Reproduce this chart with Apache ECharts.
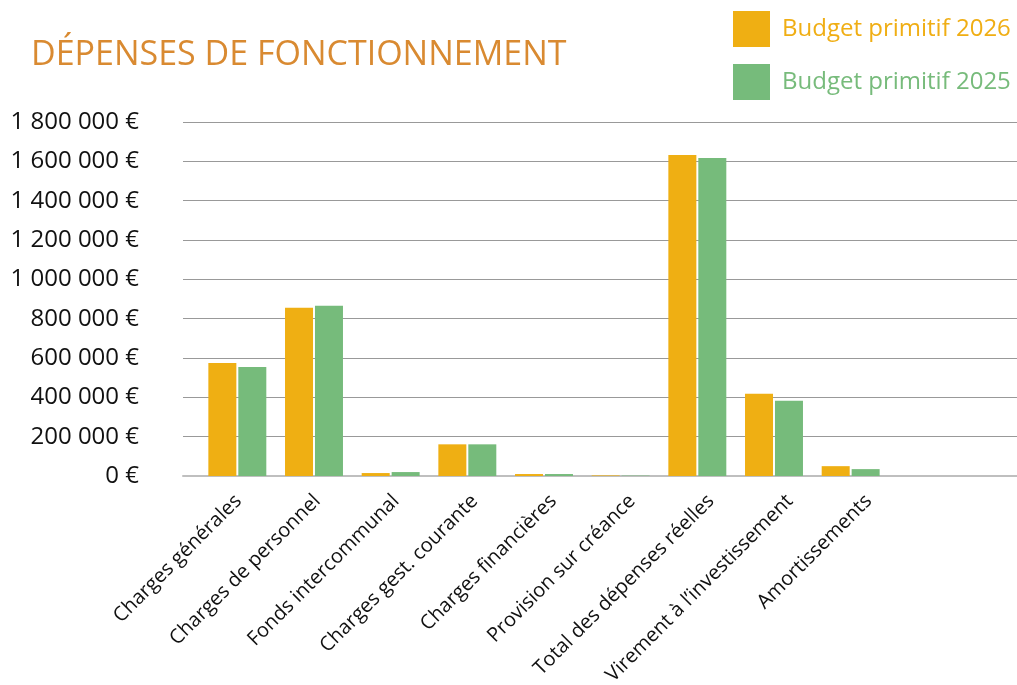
<!DOCTYPE html>
<html>
<head>
<meta charset="utf-8">
<script src="https://cdn.jsdelivr.net/npm/echarts@6/dist/echarts.min.js"></script>
<style>
  html, body { margin: 0; padding: 0; background: #fff; }
  #chart { width: 1017px; height: 685px; }
</style>
</head>
<body>
<div id="chart"></div>
<script>
const categories = [
  'Charges générales',
  'Charges de personnel',
  'Fonds intercommunal',
  'Charges gest. courante',
  'Charges financières',
  'Provision sur créance',
  'Total des dépenses réelles',
  'Virement à l\u2019investissement',
  'Amortissements'
];
const budget2026 = [574000, 856000, 15000, 161000, 10000, 3000, 1632000, 418000, 50000];
const budget2025 = [554000, 866000, 20000, 161000, 10000, 2000, 1617000, 383000, 35000];
const yTickLabels = ['0 €', '200 000 €', '400 000 €', '600 000 €', '800 000 €',
  '1 000 000 €', '1 200 000 €', '1 400 000 €', '1 600 000 €', '1 800 000 €'];

const FONT = '"Open Sans", sans-serif';
const ORANGE = '#EFAF13';
const GREEN = '#76BB7B';

const chart = echarts.init(document.getElementById('chart'));

// grid 0: gridlines + y labels, grid 1: bars, grid 2: category labels (slightly wider spacing)
chart.setOption({
  animation: false,
  title: {
    text: 'DÉPENSES DE FONCTIONNEMENT',
    left: 31,
    top: 38,
    padding: 0,
    textStyle: { color: '#D98A31', fontFamily: FONT, fontSize: 34, fontWeight: 'normal' }
  },
  legend: {
    orient: 'vertical',
    left: 733,
    top: 11,
    padding: 0,
    itemWidth: 37,
    itemHeight: 36,
    itemGap: 17,
    icon: 'rect',
    data: [
      { name: 'Budget primitif 2026', textStyle: { color: '#F0AE14' } },
      { name: 'Budget primitif 2025', textStyle: { color: '#77BB7B' } }
    ],
    textStyle: { fontFamily: FONT, fontSize: 24, padding: [0, 0, 0, 7] }
  },
  grid: [
    { left: 183, right: 0, top: 122, height: 354, outerBoundsMode: 'none' },
    { left: 199, width: 690, top: 122, height: 354, outerBoundsMode: 'none' },
    { left: 199, width: 709, top: 122, height: 354, outerBoundsMode: 'none' }
  ],
  xAxis: [
    {
      type: 'category', gridIndex: 0, data: [''],
      axisLine: { show: true, lineStyle: { color: '#BFBFBF', width: 2 } },
      axisTick: { show: false }, axisLabel: { show: false }
    },
    {
      type: 'category', gridIndex: 1, data: categories,
      axisLine: { show: false }, axisTick: { show: false }, axisLabel: { show: false }
    },
    {
      type: 'category', gridIndex: 2, data: categories,
      axisLine: { show: false }, axisTick: { show: false },
      axisLabel: {
        rotate: 45, interval: 0, margin: 22,
        color: '#111', fontFamily: FONT, fontSize: 20
      }
    }
  ],
  yAxis: [
    {
      type: 'value', gridIndex: 0, min: 0, max: 1800000, interval: 200000,
      axisLine: { show: false }, axisTick: { show: false },
      splitLine: { lineStyle: { color: '#999999', width: 1 } },
      axisLabel: {
        margin: 44, color: '#111', fontFamily: FONT, fontSize: 24,
        formatter: v => yTickLabels[Math.round(v / 200000)]
      }
    },
    {
      type: 'value', gridIndex: 1, min: 0, max: 1800000, interval: 200000,
      show: false, splitLine: { show: false }
    },
    {
      type: 'value', gridIndex: 2, min: 0, max: 1800000, interval: 200000,
      show: false, splitLine: { show: false }
    }
  ],
  series: [
    {
      name: 'Budget primitif 2026', type: 'bar', xAxisIndex: 1, yAxisIndex: 1,
      data: budget2026, barWidth: 28, barGap: '7%',
      itemStyle: { color: ORANGE }
    },
    {
      name: 'Budget primitif 2025', type: 'bar', xAxisIndex: 1, yAxisIndex: 1,
      data: budget2025, barWidth: 28, barGap: '7%',
      itemStyle: { color: GREEN }
    }
  ]
});
</script>
</body>
</html>
